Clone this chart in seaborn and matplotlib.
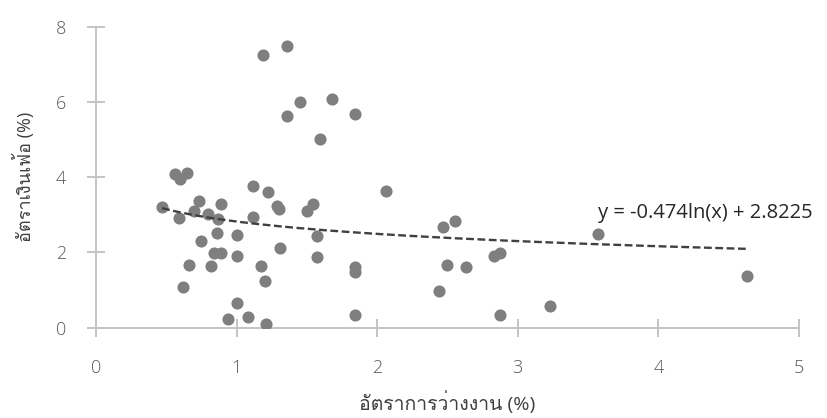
import numpy as np
import pandas as pd
import matplotlib
matplotlib.use("Agg")
import matplotlib.pyplot as plt
import seaborn as sns
from matplotlib import font_manager as fm
from matplotlib.ft2font import FT2Font

# Unemployment rate (%) and inflation rate (%) per observation
unemployment = [0.56, 0.65, 0.60, 1.12, 1.22, 1.29, 1.30, 0.47, 0.59, 0.73,
                0.70, 0.89, 0.80, 0.87, 1.12, 0.86, 1.00, 0.75, 0.84, 0.89,
                1.00, 0.66, 0.82, 1.17, 1.20, 0.62, 1.00, 0.94, 1.08, 1.21,
                1.31, 1.19, 1.36, 1.45, 1.68, 1.36, 1.84, 1.59, 1.50, 1.54,
                2.06, 1.57, 1.57, 1.84, 1.84, 1.84, 2.47, 2.55, 2.83, 2.87,
                2.50, 2.63, 2.44, 2.87, 3.23, 3.57, 4.63]
inflation = [4.09, 4.12, 3.94, 3.77, 3.60, 3.23, 3.15, 3.22, 2.92, 3.38,
             3.10, 3.29, 3.01, 2.88, 2.93, 2.51, 2.46, 2.30, 1.99, 1.99,
             1.91, 1.67, 1.65, 1.63, 1.23, 1.09, 0.66, 0.24, 0.29, 0.09,
             2.11, 7.25, 7.49, 5.99, 6.08, 5.63, 5.69, 5.01, 3.11, 3.29,
             3.64, 2.45, 1.89, 1.62, 1.48, 0.34, 2.67, 2.83, 1.91, 1.98,
             1.66, 1.62, 0.98, 0.34, 0.58, 2.48, 1.37]

# Logarithmic trend: y = a*ln(x) + b
trend_a = -0.474
trend_b = 2.8225
equation_text = "y = -0.474ln(x) + 2.8225"

x_label = "อัตราการว่างงาน (%)"
y_label = "อัตราเงินเฟ้อ (%)"
x_ticks = [0, 1, 2, 3, 4, 5]
y_ticks = [0, 2, 4, 6, 8]


def thai_families():
    found = []
    for fe in fm.fontManager.ttflist:
        if fe.name in found:
            continue
        try:
            cmap = FT2Font(fe.fname).get_charmap()
        except Exception:
            continue
        if 0x0E2D in cmap and 0x0E31 in cmap and 0x0E07 in cmap:
            found.append(fe.name)
    return found


sns.set_style("white")
families = ["Open Sans"] + thai_families() + ["DejaVu Sans"]
plt.rcParams["font.family"] = families

df = pd.DataFrame({"unemployment": unemployment, "inflation": inflation})

fig = plt.figure(figsize=(8.27, 4.18), dpi=100)
ax = fig.add_axes([0.1161, 0.216, 0.85, 0.720])

sns.scatterplot(data=df, x="unemployment", y="inflation", ax=ax,
                color="#7f7f7f", s=76, linewidth=0, zorder=3)

xs = np.linspace(min(unemployment), max(unemployment), 200)
trend = pd.DataFrame({"x": xs, "y": trend_a * np.log(xs) + trend_b})
sns.lineplot(data=trend, x="x", y="y", ax=ax, color="#404040",
             linewidth=1.7, zorder=4)
ax.lines[-1].set_dashes((3.3, 1.5))

ax.text(3.57, 3.05, equation_text, ha="left", va="center",
        fontsize=14.5, color="#262626")

ax.set_xlim(0, 5)
ax.set_ylim(0, 8)
ax.set_xticks(x_ticks)
ax.set_yticks(y_ticks)

for side in ("top", "right"):
    ax.spines[side].set_visible(False)
for side in ("left", "bottom"):
    ax.spines[side].set_color("#c4c4c4")
    ax.spines[side].set_linewidth(1.4)
ax.tick_params(axis="both", which="major", bottom=True, left=True,
               direction="inout", length=13, width=1.4,
               color="#c4c4c4", labelsize=13, labelcolor="#595959")
ax.tick_params(axis="y", pad=15)
ax.tick_params(axis="x", pad=16)
for lab in ax.get_xticklabels() + ax.get_yticklabels():
    lab.set_fontweight("light")
ax.grid(False)

ax.set_xlabel(x_label, fontsize=14, color="#404040", labelpad=10)
ax.set_ylabel(y_label, fontsize=13, color="#404040", labelpad=15)

fig.savefig("out.png", dpi=100, facecolor="white")
